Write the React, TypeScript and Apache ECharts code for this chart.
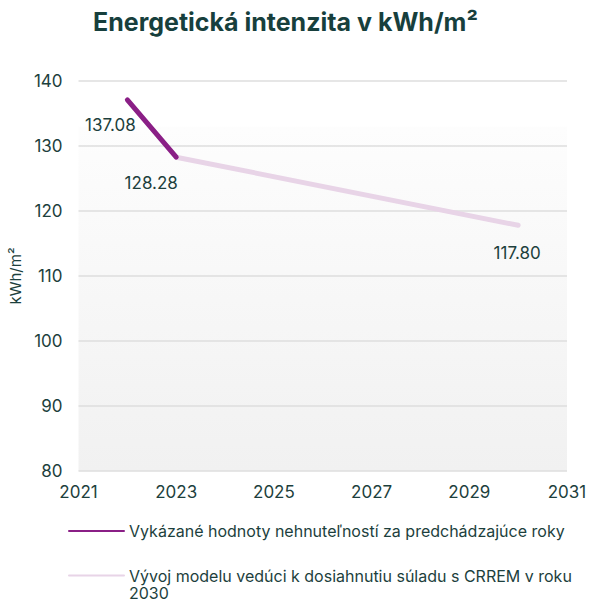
import React, { useEffect, useRef } from "react";
import * as echarts from "echarts";

const titleText = "Energetická intenzita v kWh/m²";
const yAxisName = "kWh/m²";
const seriesNames = [
  "Vykázané hodnoty nehnuteľností za predchádzajúce roky",
  "Vývoj modelu vedúci k dosiahnutiu súladu s CRREM v roku 2030",
];
const reportedYears = [2022, 2023];
const reportedValues = [137.08, 128.28];
const modelYears = [2023, 2030];
const modelValues = [128.28, 117.8];
const reportedLabels = [true, false];
const modelLabels = [true, true];

const TXT = "#1d3f3d";
const FONT = "Inter";
const PURPLE = "#8a1f86";
const PINK = "#e8d4e7";

export default function App() {
  const ref = useRef<HTMLDivElement>(null);
  useEffect(() => {
    if (!ref.current) return;
    const chart = echarts.init(ref.current, undefined, { renderer: "svg" });
    const labelOffsets: Record<string, number[]> = {
      "2022": [-17, 25],
      "2023": [-25, 26],
      "2030": [-1, 28],
    };
    const mk = (years: number[], vals: number[], show: boolean[]) =>
      years.map((y, i) => ({
        value: [y, vals[i]],
        label: {
          show: show[i],
          position: "inside",
          offset: labelOffsets[String(y)],
          formatter: vals[i].toFixed(2),
          color: TXT,
          fontSize: 17,
          fontFamily: FONT,
        },
      }));
    chart.setOption({
      animation: false,
      backgroundColor: "#ffffff",
      textStyle: { fontFamily: FONT, color: TXT },
      title: {
        text: titleText,
        left: 88,
        top: 4,
        textStyle: { fontSize: 25, fontWeight: "bold", color: "#173f3d", fontFamily: FONT },
      },
      grid: {
        left: 69,
        right: 23,
        top: 81,
        bottom: 130,
        show: true,
        borderWidth: 0,
        backgroundColor: new echarts.graphic.LinearGradient(0, 0, 0, 1, [
          { offset: 0, color: "#ffffff" },
          { offset: 0.115, color: "#ffffff" },
          { offset: 0.12, color: "#fdfdfd" },
          { offset: 1, color: "#f1f1f1" },
        ]),
      },
      legend: [
        {
          data: [seriesNames[0]],
          left: 68,
          top: 523,
          padding: 0,
          itemWidth: 55,
          itemHeight: 14,
          textStyle: { fontSize: 16, color: TXT, fontFamily: FONT },
        },
        {
          data: [seriesNames[1]],
          left: 68,
          top: 550,
          padding: 0,
          itemWidth: 55,
          itemHeight: 14,
          formatter: (name: string) => "\n" + name.replace(" 2030", "\n2030"),
          textStyle: {
            fontSize: 16,
            color: TXT,
            fontFamily: FONT,
            lineHeight: 17,
          },
        },
      ],
      xAxis: {
        type: "value",
        min: 2021,
        max: 2031,
        interval: 2,
        axisLine: { show: false },
        axisTick: { show: false },
        splitLine: { show: false },
        axisLabel: {
          formatter: (v: number) => String(v),
          fontSize: 17,
          color: TXT,
          margin: 12,
          fontFamily: FONT,
        },
      },
      yAxis: {
        type: "value",
        min: 80,
        max: 140,
        interval: 10,
        name: yAxisName,
        nameLocation: "middle",
        nameGap: 43,
        nameTextStyle: { fontSize: 15, color: TXT, fontFamily: FONT },
        axisLine: { show: false },
        axisTick: { show: false },
        splitLine: { lineStyle: { color: "#dedede", width: 1.5 } },
        axisLabel: { fontSize: 17, color: TXT, margin: 16, fontFamily: FONT },
      },
      series: [
        {
          name: seriesNames[1],
          type: "line",
          data: mk(modelYears, modelValues, modelLabels),
          symbol: "circle",
          symbolSize: 1,
          showSymbol: true,
          itemStyle: { color: "rgba(0,0,0,0)" },
          lineStyle: { color: PINK, width: 5, cap: "round" },
          emphasis: { disabled: true },
          z: 2,
        },
        {
          name: seriesNames[0],
          type: "line",
          data: mk(reportedYears, reportedValues, reportedLabels),
          symbol: "circle",
          symbolSize: 1,
          showSymbol: true,
          itemStyle: { color: "rgba(0,0,0,0)" },
          lineStyle: { color: PURPLE, width: 5, cap: "round" },
          emphasis: { disabled: true },
          z: 3,
        },
      ],
    });
    return () => chart.dispose();
  }, []);
  return <div ref={ref} style={{ width: 590, height: 601, position: "absolute", left: 0, top: 0 }} />;
}
